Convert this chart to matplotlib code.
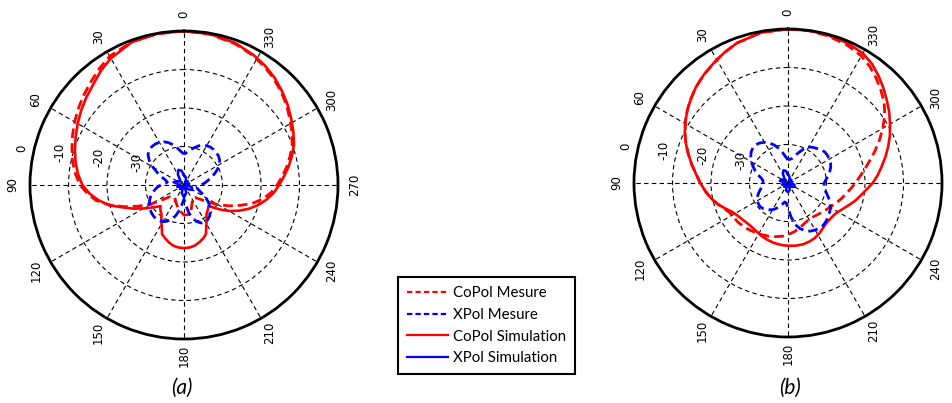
import numpy as np
import matplotlib.pyplot as plt
from matplotlib.lines import Line2D

# ---- panel (a) ----
a_co_sim_deg = [0, 10, 20, 30, 36, 42, 48, 54, 60, 66, 72, 78, 84, 90, 95, 100, 105, 110, 115, 120,
                125, 130, 132, 135, 138, 142, 147, 152, 156, 160, 165, 170, 175, 180, 185, 190,
                195, 200, 204, 208, 213, 218, 222, 226, 229, 232, 236, 240, 245, 250, 255, 260,
                265, 270, 275, 280, 285, 290, 296, 302, 308, 314, 320, 326, 332, 340, 350, 360]
a_co_sim_db = [0, -0.1, -0.5, -2.0, -3.3, -4.8, -5.9, -7.0, -8.1, -9.2, -10.2, -11.2, -12.3, -13.6,
               -15.3, -17.4, -19.8, -23.0, -25.5, -27.8, -29.8, -31.3, -31.8, -31.3, -30.9, -30.5,
               -29.2, -27.7, -26.0, -25.4, -24.6, -24.0, -23.7, -23.6, -23.7, -24.0, -24.6, -25.3,
               -26.0, -27.7, -29.2, -30.5, -30.9, -31.3, -31.6, -30.6, -28.6, -26.5, -24.2, -22.0,
               -20.0, -18.2, -16.6, -15.3, -13.9, -12.4, -11.0, -9.6, -8.4, -7.2, -5.9, -4.7, -3.5,
               -2.5, -1.7, -0.8, -0.2, 0]

a_co_mes_deg = [0, 10, 20, 30, 36, 42, 48, 54, 60, 66, 72, 78, 84, 90, 95, 100, 105, 110, 115, 120,
                125, 130, 140, 150, 160, 170, 180, 188, 195, 205, 215, 222, 229, 235, 240, 245,
                250, 255, 260, 265, 270, 275, 280, 285, 290, 296, 302, 308, 314, 320, 326, 332,
                340, 350, 360]
a_co_mes_db = [0, -0.1, -0.4, -1.4, -2.6, -3.9, -5.0, -6.1, -7.2, -8.3, -9.4, -10.4, -11.6, -13.0,
               -14.8, -16.8, -20.0, -23.5, -27.0, -30.2, -33.5, -35.3, -36.0, -35.5, -34.5, -33.3,
               -32.2, -32.2, -33.0, -35.0, -36.0, -35.6, -34.3, -32.2, -29.8, -27.2, -24.5, -21.6,
               -19.2, -17.3, -15.8, -14.4, -12.9, -11.5, -10.1, -8.8, -7.6, -6.2, -5.0, -3.8, -2.8,
               -1.9, -1.0, -0.3, 0]

a_x_mes_deg = list(range(0, 365, 5))
a_x_mes_db = [-32.0, -31.3, -30.3, -29.2, -28.3, -27.6, -27.2, -27.0, -27.0, -27.2, -27.8, -29.0,
              -30.6, -32.3, -33.8, -35.0, -35.6, -35.2, -34.0, -33.0, -32.2, -31.4, -30.7, -30.1,
              -29.6, -29.2, -28.9, -28.7, -28.6, -28.7, -29.0, -29.6, -30.5, -31.8, -33.4, -35.2,
              -36.3, -34.8, -32.6, -30.9, -29.8, -29.1, -28.9, -29.1, -29.6, -30.3, -31.2, -32.3,
              -33.5, -34.8, -35.8, -36.4, -36.6, -36.3, -35.6, -34.7, -33.8, -32.8, -31.6, -30.4,
              -29.4, -28.7, -28.3, -28.1, -28.0, -28.0, -28.2, -28.6, -29.2, -30.0, -30.8, -31.5,
              -32.0]

a_x_sim_deg = [0, 10, 20, 30, 45, 60, 75, 90, 105, 120, 135, 150, 165, 180, 195, 210, 225, 240,
               255, 270, 285, 300, 315, 330, 345, 360]
a_x_sim_db = [-37.5, -36.2, -35.8, -36.8, -38.8, -38.0, -37.2, -39.0, -38.2, -39.5, -38.5, -39.5,
              -37.8, -36.8, -37.8, -39.5, -38.4, -37.5, -37.9, -39.4, -38.6, -39.5, -38.6, -39.2,
              -38.0, -37.5]

# ---- panel (b) ----
b_co_sim_deg = [0, 10, 20, 26, 32, 38, 44, 49, 54, 59, 64, 69, 74, 79, 84, 90, 96, 102, 107, 112,
                117, 122, 128, 134, 140, 147, 154, 160, 167, 174, 180, 187, 194, 200, 206, 212,
                218, 224, 230, 236, 240, 245, 250, 255, 260, 265, 270, 275, 280, 285, 290, 295,
                300, 305, 310, 315, 320, 325, 330, 337, 345, 352, 360]
b_co_sim_db = [0, -0.3, -1.3, -2.3, -3.4, -4.4, -5.5, -6.6, -7.7, -8.9, -10.2, -11.6, -13.1, -14.5,
               -15.9, -17.2, -18.5, -19.8, -21.0, -22.4, -23.6, -24.3, -24.8, -25.1, -25.2, -25.0,
               -24.6, -24.3, -24.0, -23.8, -23.7, -23.6, -23.6, -23.8, -24.1, -24.6, -25.2, -25.6,
               -25.6, -25.4, -25.0, -24.2, -23.2, -22.0, -20.9, -19.6, -18.0, -16.6, -15.3, -13.8,
               -12.3, -10.8, -9.4, -7.9, -6.5, -5.0, -3.5, -2.1, -1.1, -0.5, -0.2, -0.05, 0]

b_co_mes_deg = [0, 10, 20, 26, 32, 38, 44, 49, 54, 59, 64, 69, 74, 79, 84, 90, 96, 102, 107, 112,
                117, 122, 128, 134, 140, 147, 154, 160, 167, 174, 180, 187, 194, 200, 206, 212,
                218, 224, 230, 236, 242, 248, 254, 260, 265, 270, 275, 280, 285, 290, 295, 300,
                305, 310, 315, 320, 325, 330, 337, 345, 352, 360]
b_co_mes_db = [0, -0.3, -1.3, -2.3, -3.4, -4.4, -5.5, -6.6, -7.7, -8.9, -10.2, -11.6, -13.1, -14.5,
               -15.9, -17.2, -18.5, -19.8, -21.0, -22.2, -23.0, -23.3, -23.5, -23.8, -24.2, -24.6,
               -25.0, -25.3, -25.7, -26.1, -26.6, -27.2, -27.9, -28.5, -28.9, -29.1, -29.0, -28.7,
               -28.3, -27.8, -27.2, -26.4, -25.5, -24.6, -23.6, -22.5, -21.3, -19.8, -18.1, -16.0,
               -13.8, -11.6, -9.3, -7.4, -5.9, -4.4, -3.0, -1.9, -1.0, -0.4, -0.1, 0]

b_x_mes_deg = list(range(0, 365, 5))
b_x_mes_db = [-34.0, -33.2, -32.0, -30.7, -29.5, -28.5, -27.8, -27.3, -27.0, -27.1, -27.5, -28.2,
              -29.0, -30.0, -31.0, -32.0, -33.0, -33.5, -33.5, -33.3, -33.0, -32.4, -31.8, -31.2,
              -30.8, -30.6, -30.5, -30.7, -31.0, -31.5, -32.0, -32.7, -33.5, -34.3, -35.0, -34.8,
              -33.5, -31.2, -29.0, -27.7, -26.8, -26.2, -25.9, -25.7, -25.7, -26.0, -26.4, -26.8,
              -27.2, -28.0, -28.8, -29.6, -30.3, -30.6, -30.6, -30.1, -29.4, -28.8, -28.2, -27.8,
              -27.6, -27.5, -27.5, -27.8, -28.3, -28.7, -29.2, -30.2, -31.5, -32.5, -33.5, -33.8,
              -34.0]

b_x_sim_deg = a_x_sim_deg
b_x_sim_db = [-37.8, -36.8, -36.5, -37.4, -38.9, -38.2, -37.8, -39.2, -38.4, -39.5, -38.6, -39.5,
              -38.0, -37.6, -38.2, -39.5, -38.6, -38.0, -38.3, -39.4, -38.8, -39.5, -38.8, -39.3,
              -38.4, -37.8]

angle_ticks = list(range(0, 360, 30))
r_ticks = [-30, -20, -10]
r_labels = [0, -10, -20, -30]

RED = '#ff0000'
BLUE = '#0000ff'
DASH = (0, (3.5, 1.8))

fig = plt.figure(figsize=(9.52, 4.03), dpi=100)


def polar_panel(rect):
    ax = fig.add_axes(rect, projection='polar')
    ax.set_theta_zero_location('N')
    ax.set_theta_direction(1)
    ax.set_ylim(-40, 0)
    ax.set_yticks(r_ticks)
    ax.set_xticks(np.deg2rad(angle_ticks))
    ax.set_xticklabels([])
    ax.set_yticklabels([])
    ax.grid(True, color='black', linestyle=(0, (4, 3)), linewidth=0.8)
    ax.spines['polar'].set_linewidth(2)
    ax.spines['polar'].set_color('black')
    for t in angle_ticks:
        ax.text(np.deg2rad(t), 4.4, str(t), rotation=90, ha='center', va='center',
                fontsize=8.5, clip_on=False)
    for v in r_labels:
        ax.annotate(str(v), xy=(np.deg2rad(83), v), xytext=(-6.5, 13),
                    textcoords='offset points', rotation=90, ha='center', va='center',
                    fontsize=8.5)
    return ax


def draw(ax, cs_deg, cs_db, cm_deg, cm_db, xm_deg, xm_db, xs_deg, xs_db):
    ax.plot(np.deg2rad(cs_deg), cs_db, color=RED, lw=1.9)
    ax.plot(np.deg2rad(cm_deg), cm_db, color=RED, lw=2.0, linestyle=DASH)
    ax.plot(np.deg2rad(xm_deg), xm_db, color=BLUE, lw=2.0, linestyle=DASH)
    ax.plot(np.deg2rad(xs_deg), xs_db, color=BLUE, lw=1.8)


ax_a = polar_panel([30 / 952, 64 / 403, 308 / 952, 308 / 403])
draw(ax_a, a_co_sim_deg, a_co_sim_db, a_co_mes_deg, a_co_mes_db,
     a_x_mes_deg, a_x_mes_db, a_x_sim_deg, a_x_sim_db)

ax_b = polar_panel([634 / 952, 66 / 403, 308 / 952, 308 / 403])
draw(ax_b, b_co_sim_deg, b_co_sim_db, b_co_mes_deg, b_co_mes_db,
     b_x_mes_deg, b_x_mes_db, b_x_sim_deg, b_x_sim_db)

fig.text(182 / 952, 1 - 388 / 403, '(a)', ha='center', va='center', fontsize=15,
         style='italic', family='Lato')
fig.text(790 / 952, 1 - 388 / 403, '(b)', ha='center', va='center', fontsize=15,
         style='italic', family='Lato')

handles = [Line2D([], [], color=RED, lw=1.6, linestyle=(0, (2.4, 1.4))),
           Line2D([], [], color=BLUE, lw=1.6, linestyle=(0, (2.4, 1.4))),
           Line2D([], [], color=RED, lw=1.6),
           Line2D([], [], color=BLUE, lw=1.6)]
labels = ['CoPol Mesure', 'XPol Mesure', 'CoPol Simulation', 'XPol Simulation']
leg = fig.legend(handles, labels, loc='upper left', bbox_to_anchor=(398 / 952, 1 - 277 / 403),
                 frameon=True, fancybox=False, edgecolor='black', framealpha=1,
                 prop={'family': 'Lato', 'size': 10.8}, handlelength=2.7, handletextpad=0.35,
                 labelspacing=0.52, borderpad=0.6, borderaxespad=0)
leg.get_frame().set_linewidth(1.5)

fig.savefig('out.png', dpi=100)
